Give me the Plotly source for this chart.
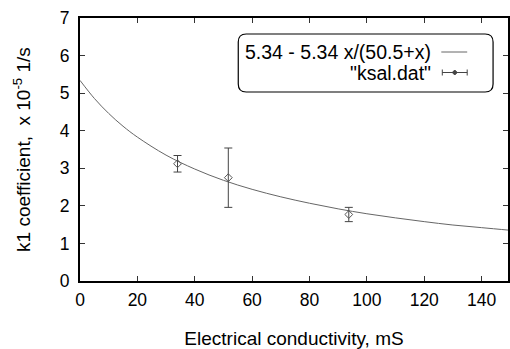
import plotly.graph_objects as go

# Data
data_x = [34.0, 51.7, 93.7]
data_y = [3.12, 2.75, 1.77]
data_err = [0.22, 0.79, 0.19]

# Fitted curve (5.34 - 5.34 x/(50.5+x))
curve_x = [0, 5, 10, 15, 20, 30, 40, 50, 60, 70, 80, 90, 100, 110, 120, 130, 140, 150]
curve_y = [5.34, 4.86, 4.46, 4.12, 3.83, 3.35, 2.98, 2.68, 2.44, 2.24, 2.07, 1.92, 1.79,
           1.68, 1.58, 1.49, 1.42, 1.35]

x_ticks = [0, 20, 40, 60, 80, 100, 120, 140]
y_ticks = [0, 1, 2, 3, 4, 5, 6, 7]

legend_labels = ["5.34 - 5.34 x/(50.5+x)", "\"ksal.dat\""]

FONT = "Liberation Sans, Arial, sans-serif"
W, H = 510, 349
L, R, T, B = 80, 0, 18, 68

fig = go.Figure()
fig.add_trace(go.Scatter(x=curve_x, y=curve_y, mode="lines",
                         line=dict(color="#666666", width=1, shape="spline"),
                         showlegend=False, hoverinfo="skip"))
fig.add_trace(go.Scatter(x=data_x, y=data_y, mode="markers",
                         marker=dict(symbol="diamond-open", size=6, color="#555555",
                                     line=dict(width=1, color="#555555")),
                         error_y=dict(type="data", array=data_err, visible=True,
                                      color="#444444", thickness=1, width=4),
                         showlegend=False))

pw = W - L - R
ph = H - T - B
def px_x(p):
    return (p - L) / pw
def px_y(p):
    return (H - B - p) / ph

# Custom gnuplot-style legend (rounded box, text then sample)
x0, x1, y0, y1 = px_x(239), px_x(495), px_y(92), px_y(34)
rx, ry = 8 / pw, 8 / ph
path = (f"M {x0+rx},{y1} L {x1-rx},{y1} Q {x1},{y1} {x1},{y1-ry} "
        f"L {x1},{y0+ry} Q {x1},{y0} {x1-rx},{y0} L {x0+rx},{y0} "
        f"Q {x0},{y0} {x0},{y0+ry} L {x0},{y1-ry} Q {x0},{y1} {x0+rx},{y1} Z")
shapes = [dict(type="path", xref="paper", yref="paper", path=path,
               line=dict(color="black", width=1.2))]
annotations = []
rows_py = [52, 72.5]
for lab, py in zip(legend_labels, rows_py):
    annotations.append(dict(x=px_x(435), y=px_y(py), xref="paper", yref="paper",
                            text=lab, showarrow=False, xanchor="right", yanchor="middle",
                            font=dict(family=FONT, size=19.5, color="black")))
# sample line
shapes.append(dict(type="line", xref="paper", yref="paper",
                   x0=px_x(443), x1=px_x(469), y0=px_y(rows_py[0]), y1=px_y(rows_py[0]),
                   line=dict(color="#666666", width=1)))
# sample errorbar
yy = px_y(rows_py[1])
shapes.append(dict(type="line", xref="paper", yref="paper",
                   x0=px_x(444), x1=px_x(469), y0=yy, y1=yy,
                   line=dict(color="#444444", width=1)))
for xe in (444, 469):
    shapes.append(dict(type="line", xref="paper", yref="paper",
                       x0=px_x(xe), x1=px_x(xe), y0=px_y(rows_py[1] - 3), y1=px_y(rows_py[1] + 3),
                       line=dict(color="#444444", width=1)))
shapes.append(dict(type="path", xref="paper", yref="paper",
                   path=(f"M {px_x(456.5)},{px_y(rows_py[1]-2.5)} L {px_x(459)},{yy} "
                         f"L {px_x(456.5)},{px_y(rows_py[1]+2.5)} L {px_x(454)},{yy} Z"),
                   line=dict(color="#444444", width=1), fillcolor="#444444"))

fig.update_layout(
    width=W, height=H,
    margin=dict(l=L, r=R, t=T, b=B, pad=0),
    paper_bgcolor="white", plot_bgcolor="white",
    font=dict(family=FONT, size=17.5, color="black"),
    shapes=shapes, annotations=annotations,
    showlegend=False,
)
fig.update_xaxes(range=[0, 149.2], tickvals=x_ticks, ticks="inside", ticklen=5,
                 tickcolor="#333333", tickwidth=1, showgrid=False, zeroline=False,
                 showline=True, linecolor="black", linewidth=2, mirror="ticks",
                 tickfont=dict(size=17.5), ticklabelstandoff=2,
                 title=dict(text="Electrical conductivity, mS",
                            font=dict(size=19), standoff=26))
fig.update_yaxes(range=[0, 7], tickvals=y_ticks, ticks="inside", ticklen=5,
                 tickcolor="#333333", tickwidth=1, showgrid=False, zeroline=False,
                 showline=True, linecolor="black", linewidth=2, mirror="ticks",
                 tickfont=dict(size=17.5), ticklabelstandoff=5,
                 title=dict(text="k1 coefficient,  x 10<sup>-5</sup> 1/s",
                            font=dict(size=19), standoff=24))

fig.write_html("out.html")
